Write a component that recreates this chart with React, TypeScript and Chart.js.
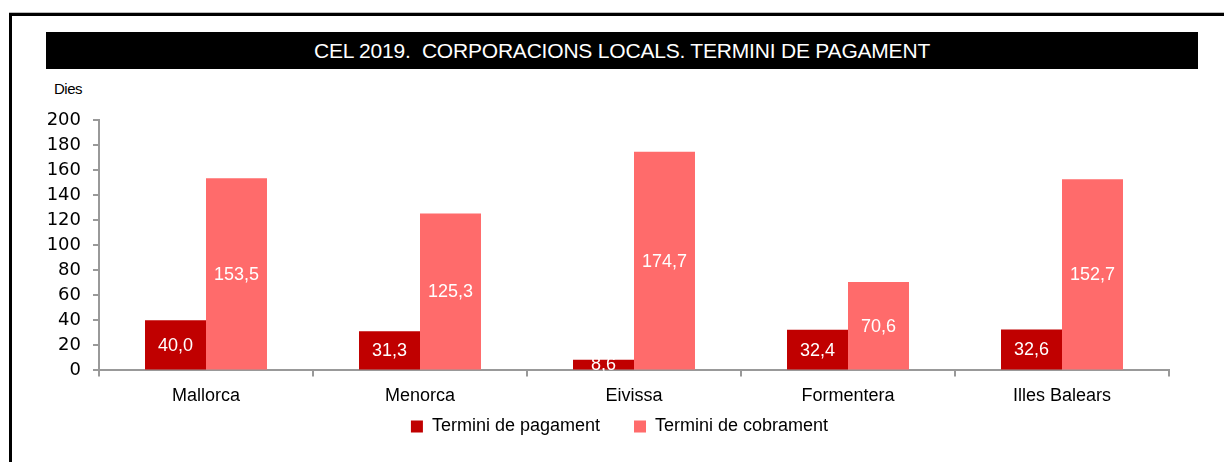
import React, { useEffect, useRef } from "react";
import { Chart, registerables } from "chart.js";

Chart.register(...registerables);

const titleText = "CEL 2019.  CORPORACIONS LOCALS. TERMINI DE PAGAMENT";
const unitLabel = "Dies";
const categories = ["Mallorca", "Menorca", "Eivissa", "Formentera", "Illes Balears"];
const pagament = [40.0, 31.3, 8.6, 32.4, 32.6];
const cobrament = [153.5, 125.3, 174.7, 70.6, 152.7];
const seriesNames = ["Termini de pagament", "Termini de cobrament"];
const seriesColors = ["#C00000", "#FF6B6B"];

const fmt = (v: number) => v.toFixed(1).replace(".", ",");

const labelPlugin = {
  id: "barLabels",
  afterLayout(chart: any) {
    // pull the legend up closer to the axis labels (keeps wide horizontal gaps)
    const lg = chart.legend;
    const x = chart.scales.x;
    if (lg && x) {
      const h = lg.bottom - lg.top;
      lg.top = x.top + 13;
      lg.bottom = lg.top + h;
      lg.left += 15;
      lg.right += 15;
    }
  },
  afterDatasetsDraw(chart: any) {
    const ctx = chart.ctx;
    ctx.save();
    ctx.fillStyle = "#FFFFFF";
    ctx.font = "18px 'Liberation Sans', Arial, sans-serif";
    ctx.textAlign = "center";
    ctx.textBaseline = "middle";
    chart.data.datasets.forEach((ds: any, i: number) => {
      const meta = chart.getDatasetMeta(i);
      meta.data.forEach((bar: any, j: number) => {
        const v = ds.data[j] as number;
        const y = (bar.y + bar.base) / 2;
        ctx.fillText(fmt(v), bar.x, y + 1);
      });
    });
    ctx.restore();
  },
};

export default function App() {
  const ref = useRef<HTMLCanvasElement>(null);
  useEffect(() => {
    if (!ref.current) return;
    const chart = new Chart(ref.current, {
      type: "bar",
      data: {
        labels: categories,
        datasets: [
          {
            label: seriesNames[0],
            data: pagament,
            backgroundColor: seriesColors[0],
            categoryPercentage: 0.57,
            barPercentage: 1,
          },
          {
            label: seriesNames[1],
            data: cobrament,
            backgroundColor: seriesColors[1],
            categoryPercentage: 0.57,
            barPercentage: 1,
          },
        ],
      },
      options: {
        animation: false,
        responsive: false,
        maintainAspectRatio: false,
        layout: { padding: { left: 40, top: 120, right: 55, bottom: 22 } },
        plugins: {
          tooltip: { enabled: false },
          title: { display: false },
          legend: {
            position: "bottom",
            labels: {
              boxWidth: 12,
              boxHeight: 12,
              padding: 34,
              color: "#000",
              font: { size: 18, family: "'Liberation Sans', Arial, sans-serif" },
            },
          },
        },
        scales: {
          x: {
            grid: {
              offset: true,
              drawOnChartArea: false,
              drawTicks: true,
              tickLength: 6,
              color: "#999999",
              lineWidth: 2,
            },
            border: { color: "#999999", width: 2 },
            ticks: {
              color: "#000",
              padding: 9,
              font: { size: 18, family: "'Liberation Sans', Arial, sans-serif" },
            },
          },
          y: {
            min: 0,
            max: 200,
            afterFit: (s: any) => {
              s.width = 59;
            },
            grid: {
              drawOnChartArea: false,
              drawTicks: true,
              tickLength: 6,
              color: "#999999",
              lineWidth: 2,
            },
            border: { color: "#999999", width: 2 },
            ticks: {
              stepSize: 20,
              autoSkip: false,
              color: "#000",
              padding: 12,
              font: { size: 18, family: "'DejaVu Sans', Verdana, sans-serif" },
            },
          },
        },
      },
      plugins: [labelPlugin],
    });
    return () => chart.destroy();
  }, []);

  return (
    <div
      style={{
        position: "absolute",
        left: 0,
        top: 0,
        width: 1224,
        height: 462,
        overflow: "hidden",
        background: "#fff",
      }}
    >
      <div
        style={{
          position: "absolute",
          left: 9,
          top: 13,
          width: 1260,
          height: 500,
          border: "3px solid #000",
          boxShadow: "0 -1px 0 #bbb",
        }}
      />
      <div
        style={{
          position: "absolute",
          left: 46,
          top: 32,
          width: 1152,
          height: 37,
          background: "#000",
          color: "#fff",
          display: "flex",
          alignItems: "center",
          justifyContent: "center",
          fontFamily: "'Liberation Sans', Arial, sans-serif",
          fontSize: 21,
          letterSpacing: -0.2,
          whiteSpace: "pre",
        }}
      >
        {titleText}
      </div>
      <div
        style={{
          position: "absolute",
          left: 54,
          top: 80,
          fontFamily: "'Liberation Sans', Arial, sans-serif",
          fontSize: 15,
          letterSpacing: -0.5,
          color: "#000",
        }}
      >
        {unitLabel}
      </div>
      <canvas
        ref={ref}
        width={1224}
        height={500}
        style={{ position: "absolute", left: 0, top: 0, width: 1224, height: 500 }}
      />
    </div>
  );
}
